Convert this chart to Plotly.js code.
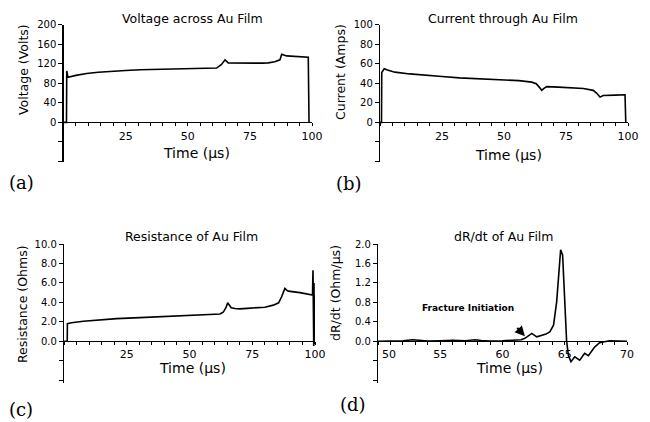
<!DOCTYPE html>
<html>
<head>
<meta charset="utf-8">
<script src="https://cdn.plot.ly/plotly-3.0.1.min.js"></script>
<style>html,body{margin:0;padding:0;background:#fff;}#chart{width:650px;height:422px;}</style>
</head>
<body>
<div id="chart"></div>
<script>
// ---------- DATA ----------
const voltTime   = [0, 1.2, 1.3, 1.8, 5, 9.3, 14, 18.7, 25, 30.8, 36, 41.5, 48, 54.9, 59, 61.6, 63.5, 65, 66.3, 70, 75, 80, 82.4, 85, 87.1, 87.5, 87.8, 89.8, 94, 98.5, 98.8];
const voltValues = [0, 0, 105, 92, 96, 100, 102.5, 104.5, 106, 107.5, 108.3, 109, 109.5, 110, 110.5, 111, 118, 127.7, 121.5, 121, 121, 121, 121.5, 124, 127.7, 136, 139.3, 135.8, 134.5, 133, 0];

const currTime   = [0, 0.6, 0.7, 1.7, 3, 6, 12, 18, 25, 32, 38, 45, 50.4, 56, 61.2, 63, 64.2, 65.2, 66, 67.2, 72, 77.3, 82, 86, 87.3, 88.7, 90, 95, 98.8, 99.1];
const currValues = [0, 0, 51, 54.8, 53.5, 51.3, 49.5, 48, 46.8, 45.5, 44.8, 44.2, 43.6, 42.6, 41.1, 39.5, 36, 32.7, 34.5, 36.5, 36, 35.4, 34.6, 32.7, 30, 25.8, 27.5, 27.8, 28.2, 0];

const resTime   = [0, 1.3, 1.35, 3, 7.7, 14, 21, 28, 34.3, 41, 47.5, 54, 59.5, 62.2, 63.5, 64.6, 65.2, 65.8, 66.6, 68.1, 70, 73, 76.8, 80, 83.4, 85.5, 86.7, 87.4, 88, 88.7, 89.4, 94, 99.0, 99.2, 99.3, 99.4, 99.5, 99.6, 99.7, 99.8];
const resValues = [0, 0, 1.8, 1.9, 2.06, 2.2, 2.32, 2.4, 2.47, 2.53, 2.58, 2.65, 2.72, 2.8, 3.0, 3.5, 3.95, 3.7, 3.45, 3.37, 3.33, 3.38, 3.43, 3.5, 3.71, 3.95, 4.57, 5.0, 5.43, 5.25, 5.15, 5.0, 4.74, 7.3, -0.5, 7.0, -0.5, 6.0, -0.3, 4.7];

const drdtTime   = [50, 51, 52, 52.8, 53.3, 54, 55, 56, 57, 57.8, 58.3, 59, 60, 61, 61.5, 61.8, 62.35, 62.75, 63.15, 63.5, 63.8, 64.1, 64.35, 64.56, 64.67, 64.83, 65.0, 65.15, 65.3, 65.5, 65.8, 66.2, 66.6, 66.9, 67.4, 67.8, 68.6, 69.3, 70];
const drdtValues = [0, 0.005, 0.01, 0.03, 0.02, 0.005, 0.01, 0.02, 0.01, 0.03, 0.015, 0.005, 0.01, 0.02, 0.03, 0.06, 0.16, 0.09, 0.12, 0.15, 0.19, 0.33, 0.81, 1.63, 1.88, 1.77, 0.81, 0, -0.3, -0.42, -0.32, -0.39, -0.25, -0.3, -0.12, -0.03, 0.01, 0.0, 0];

// tick labels
const voltTickVals = [-80, -40, 0, 40, 80, 120, 160, 200];
const voltTickText = ['', '', '0', '40', '80', '120', '160', '200'];
const currTickVals = [-40, -20, 0, 20, 40, 60, 80, 100];
const currTickText = ['', '', '0', '20', '40', '60', '80', '100'];
const resTickVals  = [-4, -2, 0, 2, 4, 6, 8, 10];
const resTickText  = ['', '', '0.0', '2.0', '4.0', '6.0', '8.0', '10.0'];
const drdtTickVals = [-0.8, -0.4, 0, 0.4, 0.8, 1.2, 1.6, 2.0];
const drdtTickText = ['', '', '0.0', '0.4', '0.8', '1.2', '1.6', '2.0'];
const timeLabels100 = [25, 50, 75, 100];
const timeLabels70  = [50, 55, 60, 65, 70];

const titles  = ['Voltage across Au Film', 'Current through Au Film', 'Resistance of Au Film', 'dR/dt of Au Film'];
const yTitles = ['Voltage (Volts)', 'Current (Amps)', 'Resistance (Ohms)', 'dR/dt (Ohm/μs)'];
const xTitle  = 'Time (μs)';
const panelLabels = ['(a)', '(b)', '(c)', '(d)'];
const noteText = 'Fracture Initiation';

// ---------- LAYOUT HELPERS ----------
const W = 650, H = 422;
const fx = p => p / W;
const fy = p => 1 - p / H;

function makeTicks(lo, hi, step, labeled, padFirst) {
  const vals = [], text = [];
  const n = Math.round((hi - lo) / step);
  for (let i = 0; i <= n; i++) {
    const v = +(lo + i * step).toFixed(6);
    vals.push(v);
    let t = labeled.indexOf(v) >= 0 ? String(v) : '';
    if (padFirst && i === 0 && t) t = '\u2003\u2003' + t; // label sits right of the y-axis
    text.push(t);
  }
  return {vals, text};
}

const panels = [
  {x: voltTime, y: voltValues, xpx: [63.5, 312], ypx: [24.5, 162], xr: [0, 100], yr: [-81, 200],
   xt: makeTicks(0, 100, 5, timeLabels100), ytv: voltTickVals, ytt: voltTickText,
   title: [193, 18], ytitle: [23, 70], xtitle: [196, 153], lab: [21, 182]},
  {x: currTime, y: currValues, xpx: [380, 628], ypx: [24.5, 162], xr: [0, 100], yr: [-40.5, 100],
   xt: makeTicks(0, 100, 5, timeLabels100), ytv: currTickVals, ytt: currTickText,
   title: [503, 18], ytitle: [340, 72], xtitle: [508, 155], lab: [349, 183]},
  {x: resTime, y: resValues, xpx: [64, 315], ypx: [244, 383], xr: [0, 100], yr: [-4.3, 10],
   xt: makeTicks(0, 100, 5, timeLabels100), ytv: resTickVals, ytt: resTickText,
   title: [191, 236], ytitle: [22, 304], xtitle: [192, 368], lab: [21, 409]},
  {x: drdtTime, y: drdtValues, xpx: [378, 627], ypx: [244, 383], xr: [50, 70], yr: [-0.86, 2.0],
   xt: makeTicks(50, 70, 1, timeLabels70, true), ytv: drdtTickVals, ytt: drdtTickText,
   title: [504, 236], ytitle: [335, 293], xtitle: [509, 368], lab: [353, 404]}
];

const FONT = 'DejaVu Sans, Arial, sans-serif';
const traces = [];
const layout = {
  width: W, height: H, margin: {l: 0, r: 0, t: 0, b: 0},
  paper_bgcolor: '#fff', plot_bgcolor: 'rgba(0,0,0,0)', showlegend: false,
  annotations: []
};

panels.forEach((p, i) => {
  const n = i + 1;
  const xa = 'xaxis' + (n === 1 ? '' : n), ya = 'yaxis' + (n === 1 ? '' : n);
  const xid = 'x' + (n === 1 ? '' : n), yid = 'y' + (n === 1 ? '' : n);
  traces.push({x: p.x, y: p.y, xaxis: xid, yaxis: yid, type: 'scatter', mode: 'lines',
               line: {color: '#000', width: 1.6}, hoverinfo: 'skip'});
  const yd = [fy(p.ypx[1]), fy(p.ypx[0])];
  const pos = yd[0] + (0 - p.yr[0]) / (p.yr[1] - p.yr[0]) * (yd[1] - yd[0]);
  layout[xa] = {
    domain: [fx(p.xpx[0]), fx(p.xpx[1])], range: p.xr, anchor: 'free', position: pos,
    showline: true, linecolor: '#000', linewidth: 1, showgrid: false, zeroline: false,
    tickmode: 'array', tickvals: p.xt.vals, ticktext: p.xt.text,
    ticks: 'outside', ticklen: 3, tickwidth: 1, tickcolor: '#000',
    tickfont: {family: FONT, size: 11, color: '#000'}, fixedrange: true
  };
  layout[ya] = {
    domain: yd, range: p.yr, anchor: xid,
    showline: true, linecolor: '#000', linewidth: 1.2, showgrid: false, zeroline: false,
    tickmode: 'array', tickvals: p.ytv, ticktext: p.ytt,
    ticks: 'outside', ticklen: 4, tickwidth: 1, tickcolor: '#000',
    tickfont: {family: FONT, size: 10, color: '#000'}, fixedrange: true
  };
  const A = layout.annotations;
  A.push({text: titles[i], xref: 'paper', yref: 'paper', x: fx(p.title[0]), y: fy(p.title[1]),
          xanchor: 'center', yanchor: 'middle', showarrow: false,
          font: {family: FONT, size: 12.5, color: '#000'}});
  A.push({text: yTitles[i], xref: 'paper', yref: 'paper', x: fx(p.ytitle[0]), y: fy(p.ytitle[1]),
          xanchor: 'center', yanchor: 'middle', showarrow: false, textangle: -90,
          font: {family: FONT, size: 12.5, color: '#000'}});
  A.push({text: xTitle, xref: 'paper', yref: 'paper', x: fx(p.xtitle[0]), y: fy(p.xtitle[1]),
          xanchor: 'center', yanchor: 'middle', showarrow: false,
          font: {family: FONT, size: 14, color: '#000'}});
  A.push({text: panelLabels[i], xref: 'paper', yref: 'paper', x: fx(p.lab[0]), y: fy(p.lab[1]),
          xanchor: 'center', yanchor: 'middle', showarrow: false,
          font: {family: 'DejaVu Serif, Liberation Serif, serif', size: 18, color: '#000'}});
});

// Fracture initiation note and arrow
layout.annotations.push({text: '<b>' + noteText + '</b>', xref: 'paper', yref: 'paper',
  x: fx(468), y: fy(308), xanchor: 'center', yanchor: 'middle', showarrow: false,
  font: {family: FONT, size: 9, color: '#000'}});
layout.annotations.push({text: '', xref: 'x4', yref: 'y4', x: drdtTime[15], y: drdtValues[15] + 0.04,
  ax: -9, ay: -10, showarrow: true, arrowhead: 2, arrowsize: 1, arrowwidth: 2, arrowcolor: '#000'});

Plotly.newPlot('chart', traces, layout, {staticPlot: true, displayModeBar: false});
</script>
</body>
</html>
